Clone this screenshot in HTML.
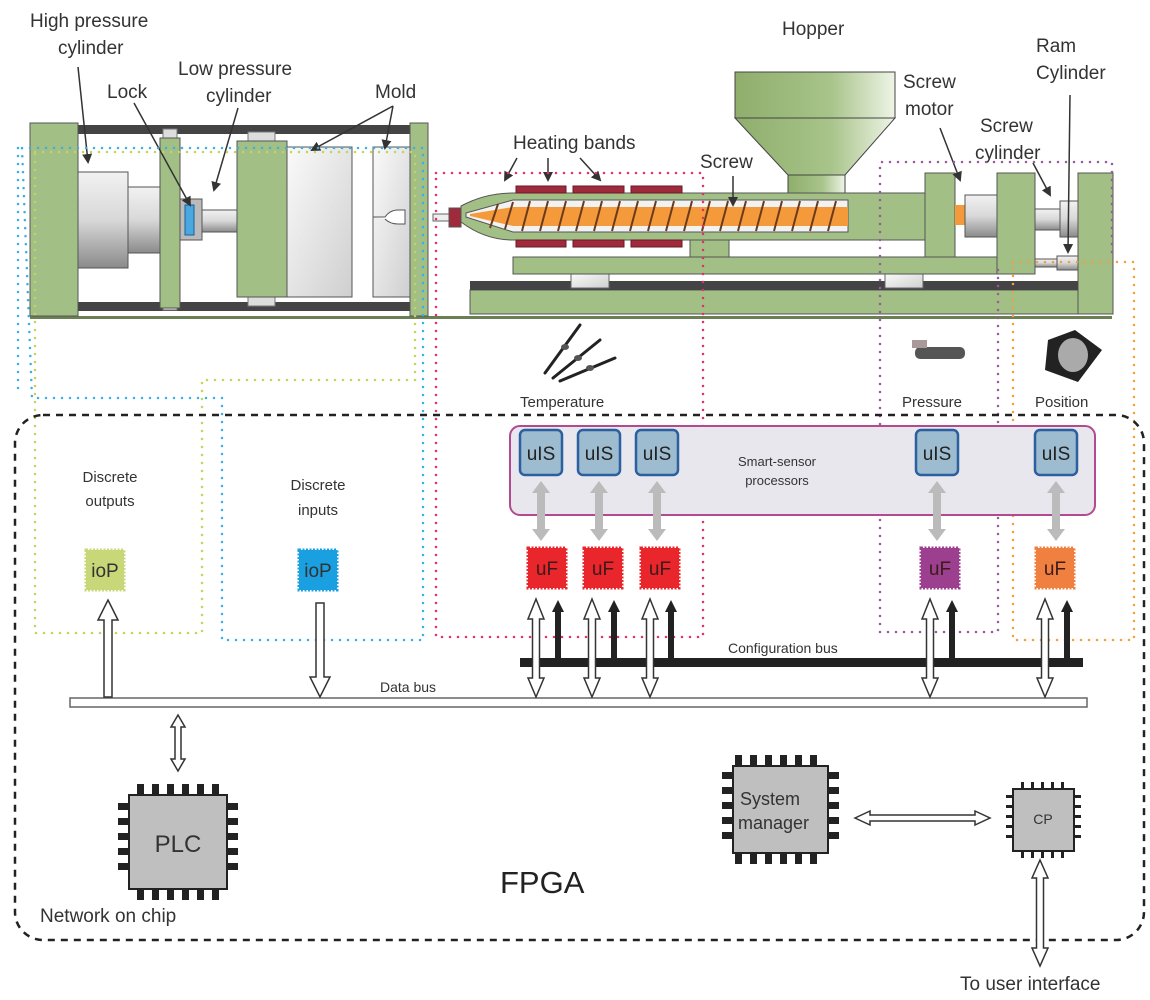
<!DOCTYPE html>
<html><head><meta charset="utf-8"><style>
html,body{margin:0;padding:0;background:#fff}
svg{display:block;font-family:"Liberation Sans",sans-serif}
</style></head><body>
<svg width="1150" height="1000" viewBox="0 0 1150 1000" xmlns="http://www.w3.org/2000/svg">
<defs>
<linearGradient id="gc" x1="0" y1="0" x2="0" y2="1"><stop offset="0" stop-color="#f2f2f2"/><stop offset="0.5" stop-color="#d8d8d8"/><stop offset="1" stop-color="#8a8a8a"/></linearGradient>
<linearGradient id="gm" x1="0" y1="0" x2="1" y2="1"><stop offset="0" stop-color="#fafafa"/><stop offset="1" stop-color="#cfcfcf"/></linearGradient>
<linearGradient id="gh" x1="0" y1="0" x2="1" y2="0"><stop offset="0" stop-color="#8fae6c"/><stop offset="0.6" stop-color="#a8c48a"/><stop offset="1" stop-color="#eef4e6"/></linearGradient>
<marker id="ah" markerWidth="10" markerHeight="10" refX="8" refY="5" orient="auto" markerUnits="userSpaceOnUse"><path d="M0,0 L10,5 L0,10 z" fill="#333"/></marker>
</defs>

<!-- ===== Clamp unit ===== -->
<rect x="30" y="316" width="1082" height="3" fill="#6b7f55"/>
<rect x="75" y="125" width="340" height="9" fill="#444"/>
<rect x="75" y="302" width="340" height="9" fill="#444"/>
<rect x="30" y="123" width="48" height="193" fill="#a2bf86" stroke="#555"/>
<rect x="78" y="172" width="50" height="96" fill="url(#gc)" stroke="#555"/>
<rect x="128" y="187" width="32" height="66" fill="url(#gc)" stroke="#555"/>
<rect x="163" y="129" width="14" height="10" fill="#ddd" stroke="#777"/>
<rect x="163" y="300" width="14" height="10" fill="#ddd" stroke="#777"/>
<rect x="160" y="138" width="20" height="170" fill="#a2bf86" stroke="#555"/>
<rect x="180" y="199" width="22" height="41" fill="#bbb" stroke="#555"/>
<rect x="185" y="205" width="9" height="30" fill="#4aa8e0" stroke="#1a5f9a"/>
<rect x="202" y="210" width="35" height="22" fill="url(#gc)" stroke="#555"/>
<rect x="248" y="132" width="27" height="10" fill="#ddd" stroke="#777"/>
<rect x="248" y="296" width="27" height="10" fill="#ddd" stroke="#777"/>
<rect x="237" y="141" width="50" height="156" fill="#a2bf86" stroke="#555"/>
<rect x="287" y="147" width="65" height="150" fill="url(#gm)" stroke="#555"/>
<rect x="373" y="147" width="37" height="150" fill="url(#gm)" stroke="#555"/>
<path d="M373,217 H385 Q390,210 398,210 H405 V224 H398 Q390,224 385,219" fill="#fff" stroke="#555"/>
<rect x="410" y="123" width="18" height="193" fill="#a2bf86" stroke="#555"/>

<!-- ===== Injection unit ===== -->
<rect x="470" y="290" width="643" height="24" fill="#a2bf86" stroke="#555"/>
<rect x="1078" y="173" width="35" height="141" fill="#a2bf86" stroke="#555"/>
<rect x="470" y="281" width="608" height="9" fill="#444"/>
<rect x="571" y="274" width="38" height="14" fill="url(#gm)" stroke="#666"/>
<rect x="885" y="274" width="38" height="14" fill="url(#gm)" stroke="#666"/>
<rect x="513" y="257" width="522" height="17" fill="#a2bf86" stroke="#555"/>
<rect x="690" y="240" width="39" height="17" fill="#a2bf86" stroke="#555"/>
<!-- hopper -->
<rect x="735" y="72" width="160" height="46" fill="url(#gh)" stroke="#444"/>
<path d="M735,118 H895 L845,175 H788 Z" fill="url(#gh)" stroke="#444"/>
<rect x="788" y="175" width="57" height="18" fill="url(#gh)" stroke="#444"/>
<!-- barrel -->
<path d="M461,206 Q485,193 513,193 H925 V240 H513 Q485,240 461,222 Z" fill="#a2bf86" stroke="#555"/>
<path d="M466,213 L513,200 H848 V232 H513 L466,217 Z" fill="#f2f2f2" stroke="#555"/>
<path d="M470,214 L513,207 H848 V226 H513 L470,216 Z" fill="#f59a3a"/>
<g stroke="#6b3a1e" stroke-width="2">
<line x1="490" y1="228" x2="498" y2="204"/><line x1="505" y1="229" x2="513" y2="202"/>
<line x1="522" y1="231" x2="530" y2="201"/><line x1="540" y1="231" x2="548" y2="201"/>
<line x1="558" y1="231" x2="566" y2="201"/><line x1="576" y1="231" x2="584" y2="201"/>
<line x1="594" y1="231" x2="602" y2="201"/><line x1="612" y1="231" x2="620" y2="201"/>
<line x1="630" y1="231" x2="638" y2="201"/><line x1="648" y1="231" x2="656" y2="201"/>
<line x1="666" y1="231" x2="674" y2="201"/><line x1="684" y1="231" x2="692" y2="201"/>
<line x1="702" y1="231" x2="710" y2="201"/><line x1="720" y1="231" x2="728" y2="201"/>
<line x1="738" y1="231" x2="746" y2="201"/><line x1="756" y1="231" x2="764" y2="201"/>
<line x1="774" y1="231" x2="782" y2="201"/><line x1="792" y1="231" x2="800" y2="201"/>
<line x1="810" y1="231" x2="818" y2="201"/><line x1="828" y1="231" x2="836" y2="201"/>
</g>
<rect x="433" y="214" width="16" height="7" fill="#eee" stroke="#666"/>
<rect x="449" y="208" width="12" height="19" fill="#9e2a3c" stroke="#555"/>
<g fill="#9e2a3c" stroke="#6a1a28">
<rect x="516" y="186" width="50" height="7"/><rect x="573" y="186" width="51" height="7"/><rect x="631" y="186" width="51" height="7"/>
<rect x="516" y="240" width="50" height="7"/><rect x="573" y="240" width="51" height="7"/><rect x="631" y="240" width="51" height="7"/>
</g>
<rect x="925" y="173" width="30" height="84" fill="#a2bf86" stroke="#555"/>
<rect x="955" y="205" width="10" height="20" fill="#f59a3a"/>
<rect x="965" y="195" width="32" height="42" fill="url(#gc)" stroke="#555"/>
<rect x="997" y="173" width="38" height="101" fill="#a2bf86" stroke="#555"/>
<rect x="1035" y="209" width="25" height="21" fill="url(#gc)" stroke="#555"/>
<rect x="1060" y="201" width="18" height="36" fill="url(#gc)" stroke="#555"/>
<rect x="1035" y="259" width="22" height="8" fill="url(#gc)" stroke="#555"/>
<rect x="1057" y="256" width="21" height="14" fill="url(#gc)" stroke="#555"/>

<!-- ===== labels top ===== -->
<g font-size="19" fill="#333">
<text x="30" y="27">High pressure</text><text x="58" y="54">cylinder</text>
<text x="107" y="98">Lock</text>
<text x="178" y="75">Low pressure</text><text x="206" y="102">cylinder</text>
<text x="375" y="98">Mold</text>
<text x="513" y="149">Heating bands</text>
<text x="700" y="168">Screw</text>
<text x="782" y="35">Hopper</text>
<text x="903" y="88">Screw</text><text x="905" y="115">motor</text>
<text x="1036" y="52">Ram</text><text x="1036" y="79">Cylinder</text>
<text x="980" y="132">Screw</text><text x="975" y="159">cylinder</text>
</g>
<g stroke="#333" stroke-width="1.5" marker-end="url(#ah)">
<line x1="78" y1="67" x2="88" y2="162"/>
<line x1="134" y1="103" x2="190" y2="205"/>
<line x1="238" y1="108" x2="214" y2="190"/>
<line x1="393" y1="106" x2="312" y2="150"/>
<line x1="393" y1="106" x2="385" y2="148"/>
<line x1="517" y1="158" x2="505" y2="180"/>
<line x1="548" y1="158" x2="548" y2="180"/>
<line x1="580" y1="158" x2="600" y2="180"/>
<line x1="733" y1="176" x2="733" y2="205"/>
<line x1="940" y1="128" x2="960" y2="180"/>
<line x1="1033" y1="163" x2="1050" y2="195"/>
<line x1="1070" y1="95" x2="1068" y2="252"/>
</g>

<!-- ===== dotted regions ===== -->
<g fill="none" stroke-width="2.5" stroke-linecap="round" stroke-dasharray="0 8">
<path d="M22,148 H423 V640 H222 V398 H32 Z M18,148 V390" stroke="#3ab0e0"/>
<path d="M35,152 H415 V380 H202 V633 H35 Z" stroke="#c8d060"/>
<path d="M436,173 H703 V637 H436 Z" stroke="#e0306a"/>
<path d="M880,632 V162 H1112 V260 M880,632 H998 V262" stroke="#9a5a9a"/>
<path d="M1013,262 H1134 V640 H1013 Z" stroke="#f0a040"/>
</g>

<!-- sensors -->
<g stroke="#222" stroke-width="3" stroke-linecap="round">
<line x1="545" y1="373" x2="580" y2="325"/>
<line x1="553" y1="378" x2="600" y2="340"/>
<line x1="560" y1="381" x2="615" y2="358"/>
</g>
<g fill="#555"><ellipse cx="565" cy="347" rx="4" ry="3"/><ellipse cx="578" cy="358" rx="4" ry="3"/><ellipse cx="590" cy="368" rx="4" ry="3"/></g>
<rect x="915" y="347" width="50" height="12" rx="5" fill="#555"/>
<rect x="912" y="340" width="15" height="8" fill="#a99"/>
<path d="M1048,340 L1075,330 L1102,350 L1078,382 L1045,370 Z" fill="#222"/>
<ellipse cx="1073" cy="355" rx="15" ry="17" fill="#aaa"/>
<g font-size="15" fill="#333">
<text x="520" y="407">Temperature</text>
<text x="902" y="407">Pressure</text>
<text x="1035" y="407">Position</text>
</g>

<!-- ===== FPGA ===== -->
<rect x="15" y="415" width="1129" height="525" rx="28" fill="none" stroke="#222" stroke-width="2.5" stroke-dasharray="7 6"/>
<rect x="510" y="426" width="585" height="89" rx="10" fill="#e9e7ee" stroke="#b24a90" stroke-width="2"/>
<g fill="#9dbcd0" stroke="#2a5fa0" stroke-width="2.5">
<rect x="520" y="430" width="42" height="45" rx="5"/><rect x="578" y="430" width="42" height="45" rx="5"/><rect x="636" y="430" width="42" height="45" rx="5"/>
<rect x="916" y="430" width="42" height="45" rx="5"/><rect x="1035" y="430" width="42" height="45" rx="5"/>
</g>
<g font-size="19" fill="#222" text-anchor="middle">
<text x="541" y="460">uIS</text><text x="599" y="460">uIS</text><text x="657" y="460">uIS</text><text x="937" y="460">uIS</text><text x="1056" y="460">uIS</text>
</g>
<text x="777" y="466" font-size="13" fill="#333" text-anchor="middle">Smart-sensor</text>
<text x="777" y="485" font-size="13" fill="#333" text-anchor="middle">processors</text>
<!-- grey double arrows -->
<g fill="#bbb">
<path d="M0,0 L9,12 H4 V48 H9 L0,60 L-9,48 H-4 V12 H-9 Z" transform="translate(541,481)"/>
<path d="M0,0 L9,12 H4 V48 H9 L0,60 L-9,48 H-4 V12 H-9 Z" transform="translate(599,481)"/>
<path d="M0,0 L9,12 H4 V48 H9 L0,60 L-9,48 H-4 V12 H-9 Z" transform="translate(657,481)"/>
<path d="M0,0 L9,12 H4 V48 H9 L0,60 L-9,48 H-4 V12 H-9 Z" transform="translate(937,481)"/>
<path d="M0,0 L9,12 H4 V48 H9 L0,60 L-9,48 H-4 V12 H-9 Z" transform="translate(1056,481)"/>
</g>
<!-- uF chips -->
<g stroke-width="3" stroke-dasharray="2 1.5">
<rect x="528" y="548" width="38" height="40" fill="#e8262b" stroke="#e8262b"/>
<rect x="584" y="548" width="38" height="40" fill="#e8262b" stroke="#e8262b"/>
<rect x="641" y="548" width="38" height="40" fill="#e8262b" stroke="#e8262b"/>
<rect x="921" y="548" width="38" height="40" fill="#9b3f8e" stroke="#9b3f8e"/>
<rect x="1036" y="548" width="38" height="40" fill="#f08040" stroke="#f08040"/>
<rect x="86" y="550" width="38" height="40" fill="#c8d878" stroke="#c8d878"/>
<rect x="299" y="550" width="38" height="40" fill="#1aa0e0" stroke="#1aa0e0"/>
</g>
<g font-size="19" fill="#3a1a1a" text-anchor="middle">
<text x="547" y="575">uF</text><text x="603" y="575">uF</text><text x="660" y="575">uF</text><text x="940" y="575">uF</text><text x="1055" y="575">uF</text>
<text x="105" y="577" fill="#333">ioP</text><text x="318" y="577" fill="#333">ioP</text>
</g>
<g font-size="15" fill="#333" text-anchor="middle">
<text x="110" y="482">Discrete</text><text x="110" y="506">outputs</text>
<text x="318" y="490">Discrete</text><text x="318" y="515">inputs</text>
</g>
<!-- buses -->
<rect x="520" y="658" width="563" height="9" fill="#222"/>
<rect x="70" y="698" width="1017" height="9" fill="#fff" stroke="#666" stroke-width="1.5"/>
<text x="380" y="692" font-size="14" fill="#333">Data bus</text>
<text x="728" y="653" font-size="14" fill="#333">Configuration bus</text>
<!-- black arrows -->
<g fill="#222">
<path d="M0,0 L6,12 H3 V58 H-3 V12 H-6 Z" transform="translate(558,600)"/>
<path d="M0,0 L6,12 H3 V58 H-3 V12 H-6 Z" transform="translate(614,600)"/>
<path d="M0,0 L6,12 H3 V58 H-3 V12 H-6 Z" transform="translate(671,600)"/>
<path d="M0,0 L6,12 H3 V58 H-3 V12 H-6 Z" transform="translate(952,600)"/>
<path d="M0,0 L6,12 H3 V58 H-3 V12 H-6 Z" transform="translate(1067,600)"/>
</g>
<!-- white double arrows -->
<g fill="#fff" stroke="#333" stroke-width="1.5">
<path d="M0,0 L8,20 H3.5 V79 H8 L0,98 L-8,79 H-3.5 V20 H-8 Z" transform="translate(536,599)"/>
<path d="M0,0 L8,20 H3.5 V79 H8 L0,98 L-8,79 H-3.5 V20 H-8 Z" transform="translate(592,599)"/>
<path d="M0,0 L8,20 H3.5 V79 H8 L0,98 L-8,79 H-3.5 V20 H-8 Z" transform="translate(650,599)"/>
<path d="M0,0 L8,20 H3.5 V79 H8 L0,98 L-8,79 H-3.5 V20 H-8 Z" transform="translate(930,599)"/>
<path d="M0,0 L8,20 H3.5 V79 H8 L0,98 L-8,79 H-3.5 V20 H-8 Z" transform="translate(1045,599)"/>
<path d="M108,600 L118,620 H112 V697 H104 V620 H98 Z"/>
<path d="M316,603 H324 V677 H330 L320,697 L310,677 H316 Z"/>
<path d="M0,0 L7,12 H3 V44 H7 L0,56 L-7,44 H-3 V12 H-7 Z" transform="translate(178,715)"/>
<path d="M855,818 L870,811 V815 H975 V811 L990,818 L975,825 V821 H870 V825 Z"/>
<path d="M0,0 L8,18 H3.5 V88 H8 L0,106 L-8,88 H-3.5 V18 H-8 Z" transform="translate(1040,860)"/>
</g>
<!-- chips -->
<g fill="#222">
<g>
<rect x="137" y="784" width="7" height="12"/><rect x="152" y="784" width="7" height="12"/><rect x="167" y="784" width="7" height="12"/><rect x="182" y="784" width="7" height="12"/><rect x="197" y="784" width="7" height="12"/><rect x="212" y="784" width="7" height="12"/>
<rect x="137" y="888" width="7" height="12"/><rect x="152" y="888" width="7" height="12"/><rect x="167" y="888" width="7" height="12"/><rect x="182" y="888" width="7" height="12"/><rect x="197" y="888" width="7" height="12"/><rect x="212" y="888" width="7" height="12"/>
<rect x="118" y="803" width="12" height="7"/><rect x="118" y="818" width="12" height="7"/><rect x="118" y="833" width="12" height="7"/><rect x="118" y="848" width="12" height="7"/><rect x="118" y="863" width="12" height="7"/>
<rect x="226" y="803" width="12" height="7"/><rect x="226" y="818" width="12" height="7"/><rect x="226" y="833" width="12" height="7"/><rect x="226" y="848" width="12" height="7"/><rect x="226" y="863" width="12" height="7"/>
</g>
<g>
<rect x="735" y="755" width="7" height="12"/><rect x="750" y="755" width="7" height="12"/><rect x="765" y="755" width="7" height="12"/><rect x="780" y="755" width="7" height="12"/><rect x="795" y="755" width="7" height="12"/><rect x="810" y="755" width="7" height="12"/>
<rect x="735" y="852" width="7" height="12"/><rect x="750" y="852" width="7" height="12"/><rect x="765" y="852" width="7" height="12"/><rect x="780" y="852" width="7" height="12"/><rect x="795" y="852" width="7" height="12"/><rect x="810" y="852" width="7" height="12"/>
<rect x="722" y="772" width="12" height="7"/><rect x="722" y="787" width="12" height="7"/><rect x="722" y="802" width="12" height="7"/><rect x="722" y="817" width="12" height="7"/><rect x="722" y="832" width="12" height="7"/>
<rect x="827" y="772" width="12" height="7"/><rect x="827" y="787" width="12" height="7"/><rect x="827" y="802" width="12" height="7"/><rect x="827" y="817" width="12" height="7"/><rect x="827" y="832" width="12" height="7"/>
</g>
<g>
<rect x="1021" y="782" width="3" height="8"/><rect x="1031" y="782" width="3" height="8"/><rect x="1041" y="782" width="3" height="8"/><rect x="1051" y="782" width="3" height="8"/><rect x="1061" y="782" width="3" height="8"/>
<rect x="1021" y="850" width="3" height="8"/><rect x="1031" y="850" width="3" height="8"/><rect x="1041" y="850" width="3" height="8"/><rect x="1051" y="850" width="3" height="8"/><rect x="1061" y="850" width="3" height="8"/>
<rect x="1006" y="795" width="8" height="3"/><rect x="1006" y="805" width="8" height="3"/><rect x="1006" y="815" width="8" height="3"/><rect x="1006" y="825" width="8" height="3"/><rect x="1006" y="835" width="8" height="3"/>
<rect x="1073" y="795" width="8" height="3"/><rect x="1073" y="805" width="8" height="3"/><rect x="1073" y="815" width="8" height="3"/><rect x="1073" y="825" width="8" height="3"/><rect x="1073" y="835" width="8" height="3"/>
</g>
</g>
<rect x="129" y="795" width="98" height="94" fill="#bfbfbf" stroke="#222" stroke-width="2"/>
<rect x="733" y="766" width="95" height="87" fill="#bfbfbf" stroke="#222" stroke-width="2"/>
<rect x="1013" y="789" width="61" height="62" fill="#bfbfbf" stroke="#222" stroke-width="2"/>
<text x="178" y="852" font-size="24" fill="#333" text-anchor="middle">PLC</text>
<text x="740" y="805" font-size="18" fill="#333">System</text>
<text x="738" y="829" font-size="18" fill="#333">manager</text>
<text x="1043" y="824" font-size="14" fill="#333" text-anchor="middle">CP</text>
<text x="500" y="893" font-size="31" fill="#222">FPGA</text>
<text x="40" y="922" font-size="19" fill="#333">Network on chip</text>
<text x="960" y="990" font-size="19" fill="#333">To user interface</text>
</svg>
</body></html>
